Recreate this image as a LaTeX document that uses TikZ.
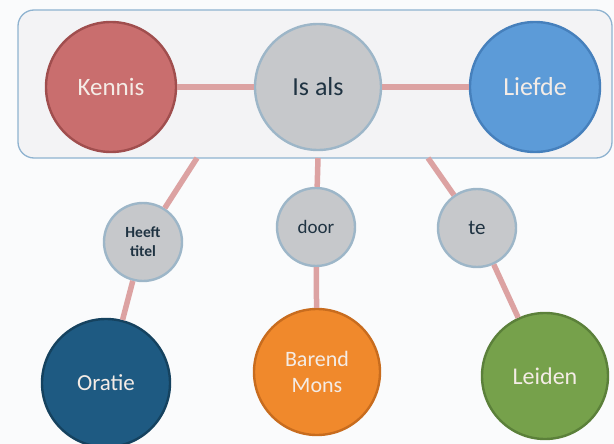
\documentclass[tikz,border=0pt]{standalone}
\usepackage{fontspec}
\setmainfont{Carlito}
\definecolor{bgc}{HTML}{FAFBFC}
\definecolor{boxfill}{HTML}{F3F3F5}
\definecolor{boxline}{HTML}{8FB3D0}
\definecolor{conn}{HTML}{DCA2A2}
\definecolor{kfill}{HTML}{C96E6E}
\definecolor{kline}{HTML}{A04E4E}
\definecolor{gfill}{HTML}{C6C8CB}
\definecolor{gline}{HTML}{9DB6C8}
\definecolor{lfill}{HTML}{5C9BD8}
\definecolor{lline}{HTML}{4680BC}
\definecolor{ofill}{HTML}{1E5A82}
\definecolor{oline}{HTML}{15425F}
\definecolor{bfill}{HTML}{F0892C}
\definecolor{bline}{HTML}{C86C1E}
\definecolor{gnfill}{HTML}{76A14B}
\definecolor{gnline}{HTML}{5B803A}
\definecolor{darktext}{HTML}{1F3342}
\definecolor{lighttext}{HTML}{F4ECE6}
\begin{document}
\begin{tikzpicture}[x=1pt,y=-1pt,
  ball/.style={circle, inner sep=0pt, align=center, line width=2.4pt},
  bigball/.style={ball, minimum size=130pt, font=\fontsize{25}{28}\selectfont},
  smallball/.style={ball, minimum size=78pt},
  lighttxt/.style={text=lighttext},
  darktxt/.style={text=darktext},
  connector/.style={draw=conn, line width=5.5pt},
  groupbox/.style={draw=boxline, fill=boxfill, line width=1.3pt, rounded corners=16pt, minimum width=594pt, minimum height=148pt, inner sep=0pt}
]
\fill[bgc] (0,0) rectangle (614,444);
\useasboundingbox (0,0) rectangle (614,444);

\node[groupbox] (group) at (315,84) {};

\node[bigball, fill=kfill, draw=kline, lighttxt] (kennis) at (111,87) {Kennis};
\node[bigball, fill=gfill, draw=gline, darktxt, minimum size=126pt, font=\fontsize{26}{28}\selectfont] (isals) at (318,87) {Is als};
\node[bigball, fill=lfill, draw=lline, lighttxt, font=\fontsize{26}{28}\selectfont] (liefde) at (535,87) {Liefde};

\node[smallball, fill=gfill, draw=gline, darktxt, font=\fontsize{15.5}{19}\selectfont\bfseries] (heeft) at (143,242) {Heeft\\titel};
\node[smallball, fill=gfill, draw=gline, darktxt, font=\fontsize{19}{21}\selectfont] (door) at (316,227) {door};
\node[smallball, fill=gfill, draw=gline, darktxt, font=\fontsize{21}{23}\selectfont] (te) at (477,228) {te};

\node[bigball, fill=ofill, draw=oline, lighttxt, minimum size=128pt, font=\fontsize{23}{26}\selectfont] (oratie) at (106,383) {Oratie};
\node[bigball, fill=bfill, draw=bline, lighttxt, minimum size=126pt, font=\fontsize{22}{26}\selectfont] (barend) at (317,372) {Barend\\Mons};
\node[bigball, fill=gnfill, draw=gnline, lighttxt, minimum size=126pt, font=\fontsize{24}{26}\selectfont] (leiden) at (545,376) {Leiden};

\coordinate (g1) at (197,158);
\coordinate (g2) at (318,158);
\coordinate (g3) at (428,158);

\draw[connector] (kennis) -- (isals);
\draw[connector] (isals) -- (liefde);
\draw[connector] (g1) -- (heeft);
\draw[connector] (heeft) -- (oratie);
\draw[connector] (g2) -- (door);
\draw[connector] (door) -- (barend);
\draw[connector] (g3) -- (te);
\draw[connector] (te) -- (leiden);
\end{tikzpicture}
\end{document}
